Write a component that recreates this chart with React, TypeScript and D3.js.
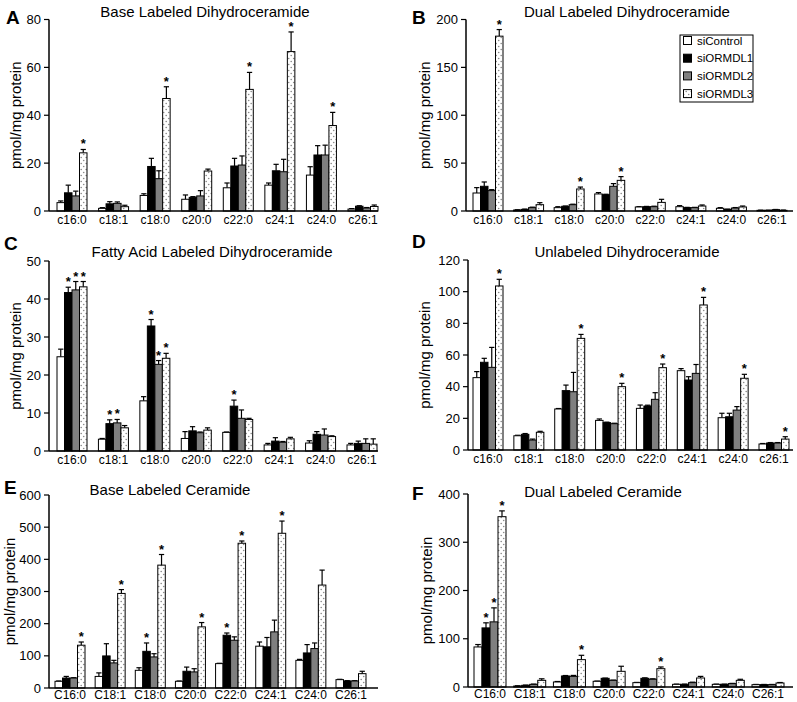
import React from "react";
import * as d3 from "d3";

const catsLower = ["c16:0", "c18:1", "c18:0", "c20:0", "c22:0", "c24:1", "c24:0", "c26:1"];
const catsUpper = ["C16:0", "C18:1", "C18:0", "C20:0", "C22:0", "C24:1", "C24:0", "C26:1"];
const seriesNames = ["siControl", "siORMDL1", "siORMDL2", "siORMDL3"];

// Panel A: Base Labeled Dihydroceramide
const aCtrl = [3.5, 1.1, 6.5, 4.9, 9.7, 10.8, 15, 0.8];
const aL1 = [7.6, 3.0, 18.6, 5.7, 18.8, 16.8, 23.4, 2.0];
const aL2 = [6.3, 3.2, 13.5, 6.3, 19.2, 16.4, 23.4, 1.25];
const aL3 = [24.3, 1.8, 47, 16.7, 50.8, 66.6, 35.7, 1.9];
const aErrCtrl = [0.7, 0.3, 0.7, 1.8, 2.0, 0.9, 3.5, 0.2];
const aErrL1 = [3.2, 0.9, 3.4, 0.3, 3.2, 2.7, 3.9, 0.2];
const aErrL2 = [2.0, 0.6, 3.3, 2.2, 3.8, 5.2, 4.1, 0.2];
const aErrL3 = [1.4, 0.6, 4.9, 0.8, 7.1, 8.2, 5.5, 0.6];
const aStars = [[0, 3], [2, 3], [4, 3], [5, 3], [6, 3]];

// Panel B: Dual Labeled Dihydroceramide
const bCtrl = [18.8, 1, 3.5, 17.8, 4.2, 4.5, 2.8, 0.7];
const bL1 = [25.8, 1.7, 4.9, 17, 4.5, 3.5, 1.7, 0.7];
const bL2 = [21.3, 3.5, 6.6, 25.8, 4.5, 3.5, 3.1, 1.4];
const bL3 = [182.6, 6.6, 23, 32, 9, 5.2, 4.2, 0.7];
const bErrCtrl = [5.6, 0.3, 1, 1.4, 0.3, 1.1, 0.7, 0.2];
const bErrL1 = [4.5, 0.3, 0.3, 0.5, 0.3, 0.3, 0.3, 0.2];
const bErrL2 = [1, 0.5, 0.5, 2.8, 0.5, 0.3, 0.5, 0.2];
const bErrL3 = [6.9, 2.1, 2, 3.9, 3.2, 1.1, 1, 0.3];
const bStars = [[0, 3], [2, 3], [3, 3]];

// Panel C: Fatty Acid Labeled Dihydroceramide
const cCtrl = [24.8, 3.1, 13.2, 3.3, 4.9, 1.6, 2.1, 1.6];
const cL1 = [41.7, 7.2, 32.9, 5.3, 11.8, 2.6, 4.4, 2.0];
const cL2 = [42.4, 7.4, 22.8, 4.8, 8.6, 2.3, 4.2, 2.0];
const cL3 = [43.2, 6.1, 24.4, 5.5, 8.3, 3.2, 3.8, 1.8];
const cErrCtrl = [2, 0.2, 1.1, 1.8, 0.1, 0.4, 0.6, 0.4];
const cErrL1 = [1.4, 1, 1.7, 1.1, 1.6, 0.9, 0.7, 0.6];
const cErrL2 = [2.2, 0.9, 1, 0.2, 2.2, 0.2, 1.6, 1.2];
const cErrL3 = [1.4, 0.6, 1.3, 0.6, 0.3, 0.4, 0.2, 1.4];
const cStars = [[0, 1], [0, 2], [0, 3], [1, 1], [1, 2], [2, 1], [2, 2], [2, 3], [4, 1]];

// Panel D: Unlabeled Dihydroceramide
const dCtrl = [45.7, 9, 25.9, 18.7, 26.3, 50.1, 20.4, 3.8];
const dL1 = [55.4, 9.9, 37.5, 17.3, 27.8, 44.2, 21, 4.4];
const dL2 = [52.2, 6.3, 36.8, 16.6, 32, 48.4, 25.2, 4.4];
const dL3 = [103.6, 11.2, 70.5, 40, 52, 91.6, 45.3, 6.9];
const dErrCtrl = [3.8, 0.3, 0.3, 0.9, 2.1, 1.3, 2.8, 0.3];
const dErrL1 = [2.5, 0.5, 3.5, 0.3, 0.5, 2.1, 2.2, 0.3];
const dErrL2 = [12.6, 0.6, 12.2, 0.3, 4.2, 5.6, 2.2, 0.3];
const dErrL3 = [4.2, 0.6, 2.5, 2.1, 2.3, 4.8, 2.5, 1.5];
const dStars = [[0, 3], [2, 3], [3, 3], [4, 3], [5, 3], [6, 3], [7, 3]];

// Panel E: Base Labeled Ceramide
const eCtrl = [20.8, 36, 55, 20.8, 75.8, 130, 86, 26];
const eL1 = [31, 99.7, 114, 52, 164, 128, 109, 21.8];
const eL2 = [31, 78, 96.6, 50, 148.5, 174.5, 122.5, 21.8];
const eL3 = [133, 294, 382, 190, 450, 481, 320, 44.6];
const eErrCtrl = [1, 11, 8, 1, 1, 13, 3, 1];
const eErrL1 = [5, 38, 26, 13, 7, 29, 26, 1];
const eErrL2 = [1, 8, 10, 10, 10.5, 36.5, 17.5, 1];
const eErrL3 = [10, 12, 33, 13.5, 7, 38, 46.5, 7.4];
const eStars = [[0, 3], [1, 3], [2, 1], [2, 3], [3, 3], [4, 1], [4, 3], [5, 3]];

// Panel F: Dual Labeled Ceramide
const fCtrl = [83, 2, 10.4, 11.8, 9, 5.5, 5.5, 4.8];
const fL1 = [122.5, 3.5, 22.8, 18, 18, 5.5, 5.5, 4.8];
const fL2 = [135, 5.5, 22, 13.8, 16, 9, 7, 4.8];
const fL3 = [353, 13.8, 56.7, 32.5, 38, 18.7, 13.8, 8.3];
const fErrCtrl = [5, 0.5, 1, 0.5, 0.5, 0.5, 0.5, 0.5];
const fErrL1 = [10.5, 0.5, 1, 0.5, 1, 0.5, 0.5, 0.5];
const fErrL2 = [29, 0.5, 2, 0.5, 1, 1, 0.5, 0.5];
const fErrL3 = [12, 3.2, 9, 10.5, 3.5, 3.3, 2.2, 1];
const fStars = [[0, 1], [0, 2], [0, 3], [2, 3], [4, 3]];

const FONT = "'Liberation Sans', Arial, Helvetica, sans-serif";
const fills = ["#ffffff", "#000000", "#7f7f7f", "url(#dots)"];

type PanelProps = {
  letter: string;
  title: string;
  titleX: number;
  cats: string[];
  series: number[][];
  errs: number[][];
  stars: number[][];
  left: number;
  right: number;
  top: number;
  bottom: number;
  max: number;
  step: number;
  firstC: number;
  lastC: number;
  groupW: number;
  letterX: number;
  letterY: number;
  titleY: number;
  ylabX: number;
  catDy: number;
  legend?: boolean;
};

function Panel(p: PanelProps) {
  const y = d3.scaleLinear().domain([0, p.max]).range([p.bottom, p.top]);
  const x = d3.scalePoint<string>().domain(p.cats).range([p.firstC, p.lastC]);
  const inner = d3
    .scaleBand<number>()
    .domain([0, 1, 2, 3])
    .range([-p.groupW / 2, p.groupW / 2])
    .padding(0);
  const bw = inner.bandwidth();
  const ticks = d3.range(0, p.max + 0.001, p.step);
  const starSet = new Set(p.stars.map((s) => s[0] + "-" + s[1]));
  return (
    <g fontFamily={FONT}>
      <text x={p.letterX} y={p.letterY} fontSize={19} fontWeight="bold">
        {p.letter}
      </text>
      <text x={p.titleX} y={p.titleY} fontSize={15} textAnchor="middle">
        {p.title}
      </text>
      <text
        transform={`translate(${p.ylabX},${(p.top + p.bottom) / 2}) rotate(-90)`}
        fontSize={15}
        textAnchor="middle"
      >
        pmol/mg protein
      </text>
      {p.cats.map((c, ci) =>
        p.series.map((s, si) => {
          const v = s[ci];
          const e = p.errs[si][ci];
          const bx = (x(c) as number) + (inner(si) as number);
          const cx = bx + bw / 2;
          const yt = y(v);
          const ye = y(v + e);
          return (
            <g key={c + si}>
              <line x1={cx} x2={cx} y1={yt} y2={ye} stroke="#000" strokeWidth={1.2} />
              <line x1={cx - bw * 0.35} x2={cx + bw * 0.35} y1={ye} y2={ye} stroke="#000" strokeWidth={1.2} />
              <rect
                x={bx}
                y={yt}
                width={bw}
                height={p.bottom - yt}
                fill={fills[si]}
                stroke="#000"
                strokeWidth={1}
              />
              {starSet.has(ci + "-" + si) && (
                <text x={cx} y={ye - 1} fontSize={13} fontWeight="bold" textAnchor="middle">
                  *
                </text>
              )}
            </g>
          );
        })
      )}
      <line x1={p.left} x2={p.left} y1={p.top} y2={p.bottom} stroke="#000" strokeWidth={1.5} />
      <line x1={p.left} x2={p.right} y1={p.bottom} y2={p.bottom} stroke="#000" strokeWidth={1.5} />
      {ticks.map((t) => (
        <g key={t}>
          <line x1={p.left - 5} x2={p.left} y1={y(t)} y2={y(t)} stroke="#000" strokeWidth={1.2} />
          <text x={p.left - 8} y={y(t) + 4.5} fontSize={13} textAnchor="end">
            {t}
          </text>
        </g>
      ))}
      {p.cats.map((c) => (
        <text key={c} x={x(c) as number} y={p.bottom + p.catDy} fontSize={12} textAnchor="middle">
          {c}
        </text>
      ))}
      {p.legend && (
        <g>
          <rect x={680} y={35} width={73} height={67} fill="#fff" stroke="#000" strokeWidth={1} />
          {seriesNames.map((n, i) => (
            <g key={n}>
              <rect x={683.5} y={36.5 + i * 17.7} width={8} height={8} fill={fills[i]} stroke="#000" strokeWidth={1} />
              <text x={697} y={44.5 + i * 17.7} fontSize={11.5}>
                {n}
              </text>
            </g>
          ))}
        </g>
      )}
    </g>
  );
}

export default function App() {
  return (
    <svg width={797} height={702} style={{ display: "block", position: "absolute", left: 0, top: 0 }}>
      <defs>
        <pattern id="dots" width={5} height={6} patternUnits="userSpaceOnUse">
          <rect width={5} height={6} fill="#fff" />
          <circle cx={1.2} cy={1.5} r={0.8} fill="#8a8a8a" />
          <circle cx={3.7} cy={4.5} r={0.8} fill="#8a8a8a" />
        </pattern>
      </defs>
      <rect width={797} height={702} fill="#fff" />
      <Panel
        letter="A" title="Base Labeled Dihydroceramide" titleX={205} titleY={17}
        cats={catsLower} series={[aCtrl, aL1, aL2, aL3]} errs={[aErrCtrl, aErrL1, aErrL2, aErrL3]} stars={aStars}
        left={49} right={378} top={19.5} bottom={211} max={80} step={20}
        firstC={72} lastC={363} groupW={30} letterX={6} letterY={24} ylabX={21} catDy={13}
      />
      <Panel
        letter="B" title="Dual Labeled Dihydroceramide" titleX={627} titleY={17}
        cats={catsLower} series={[bCtrl, bL1, bL2, bL3]} errs={[bErrCtrl, bErrL1, bErrL2, bErrL3]} stars={bStars}
        left={466} right={793} top={19.5} bottom={211} max={200} step={50}
        firstC={488} lastC={772} groupW={30} letterX={412} letterY={24} ylabX={430} catDy={13} legend
      />
      <Panel
        letter="C" title="Fatty Acid Labeled Dihydroceramide" titleX={212} titleY={257}
        cats={catsLower} series={[cCtrl, cL1, cL2, cL3]} errs={[cErrCtrl, cErrL1, cErrL2, cErrL3]} stars={cStars}
        left={49} right={378} top={261} bottom={451} max={50} step={10}
        firstC={72} lastC={362} groupW={30} letterX={4} letterY={250} ylabX={21} catDy={13}
      />
      <Panel
        letter="D" title="Unlabeled Dihydroceramide" titleX={627} titleY={257}
        cats={catsLower} series={[dCtrl, dL1, dL2, dL3]} errs={[dErrCtrl, dErrL1, dErrL2, dErrL3]} stars={dStars}
        left={468} right={793} top={260} bottom={450} max={120} step={20}
        firstC={488} lastC={774} groupW={30} letterX={412} letterY={248} ylabX={430} catDy={13}
      />
      <Panel
        letter="E" title="Base Labeled Ceramide" titleX={170} titleY={495}
        cats={catsUpper} series={[eCtrl, eL1, eL2, eL3]} errs={[eErrCtrl, eErrL1, eErrL2, eErrL3]} stars={eStars}
        left={49} right={378} top={495} bottom={688} max={600} step={100}
        firstC={70} lastC={351} groupW={30} letterX={4} letterY={494} ylabX={15} catDy={11}
      />
      <Panel
        letter="F" title="Dual Labeled Ceramide" titleX={603} titleY={497}
        cats={catsUpper} series={[fCtrl, fL1, fL2, fL3]} errs={[fErrCtrl, fErrL1, fErrL2, fErrL3]} stars={fStars}
        left={468} right={793} top={494} bottom={687} max={400} step={100}
        firstC={490} lastC={768} groupW={32} letterX={412} letterY={500} ylabX={432} catDy={11}
      />
    </svg>
  );
}
